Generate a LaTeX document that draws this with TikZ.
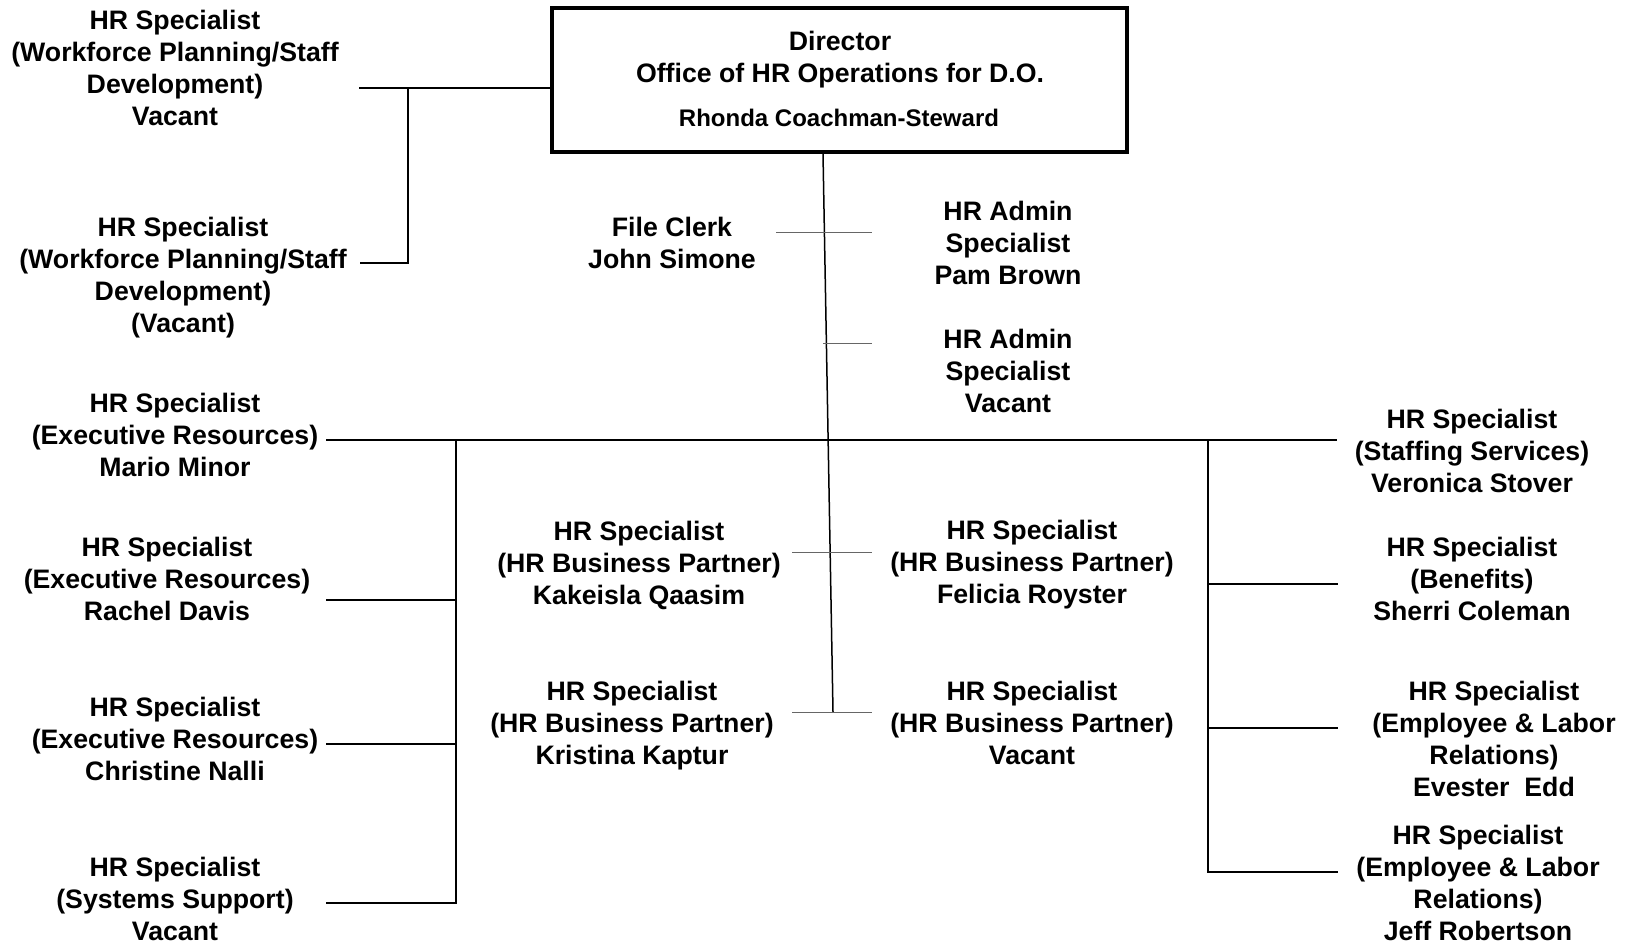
\documentclass[tikz,border=0pt]{standalone}
\usepackage{fontspec}
\setmainfont{Liberation Sans}
\begin{document}
\begin{tikzpicture}[x=1pt,y=-1pt,
  lbl/.style={font=\bfseries\fontsize{26.7}{32}\selectfont, align=center, inner sep=0pt},
  bus/.style={line width=2pt, line cap=rect},
  stub/.style={line width=1pt, draw=black!60},
  spine/.style={line width=1.5pt}]
\useasboundingbox (0,0) rectangle (1630,943);
% director box
\node[draw, line width=3.5pt, minimum width=575pt, minimum height=144pt, inner sep=0pt] (dir) at (839.5,80) {};
\node[lbl, font=\bfseries\fontsize{26.7}{32}\selectfont] (dirt) at (840,60) {Director\\Office of HR Operations for D.O.};
\node[lbl, font=\bfseries\fontsize{24}{28}\selectfont] (dirn) at (839,118) {Rhonda Coachman-Steward};
% left top
\node[lbl] (wp1) at (175,68) {HR Specialist\\(Workforce Planning/Staff\\Development)\\Vacant};
\node[lbl] (wp2) at (183,278) {HR Specialist\\(Workforce Planning/Staff\\Development)\\(Vacant)};
% middle
\node[lbl] (fc) at (672,243) {File Clerk\\John Simone};
\node[lbl] (pam) at (1008,243) {HR Admin\\Specialist\\Pam Brown};
\node[lbl] (adv) at (1008,371) {HR Admin\\Specialist\\Vacant};
% left column
\node[lbl] (mario) at (175,435) {HR Specialist\\(Executive Resources)\\Mario Minor};
\node[lbl] (rachel) at (167,579) {HR Specialist\\(Executive Resources)\\Rachel Davis};
\node[lbl] (chris) at (175,739) {HR Specialist\\(Executive Resources)\\Christine Nalli};
\node[lbl] (sys) at (175,898.5) {HR Specialist\\(Systems Support)\\Vacant};
% business partners
\node[lbl] (kak) at (639,565.5) {HR Specialist\\(HR Business Partner)\\Kakeisla Qaasim};
\node[lbl] (kri) at (632,726) {HR Specialist\\(HR Business Partner)\\Kristina Kaptur};
\node[lbl] (fel) at (1032,565) {HR Specialist\\(HR Business Partner)\\Felicia Royster};
\node[lbl] (bpv) at (1032,723) {HR Specialist\\(HR Business Partner)\\Vacant};
% right column
\node[lbl] (stf) at (1472,451) {HR Specialist\\(Staffing Services)\\Veronica Stover};
\node[lbl] (ben) at (1472,579) {HR Specialist\\(Benefits)\\Sherri Coleman};
\node[lbl] (emp1) at (1494,739) {HR Specialist\\(Employee \& Labor\\Relations)\\Evester\ \ Edd};
\node[lbl] (emp2) at (1478,882.5) {HR Specialist\\(Employee \& Labor\\Relations)\\Jeff Robertson};
% coordinates
\coordinate (wpA) at (360,88);
\coordinate (wpJ) at (408,88);
\coordinate (wpK) at (408,263);
\coordinate (wpB) at (361,263);
\coordinate (spT) at (823,152);
\coordinate (spB) at (833,712);
\coordinate (fcL) at (776,232); \coordinate (fcR) at (872,232);
\coordinate (adL) at (823,343); \coordinate (adR) at (872,343);
\coordinate (bp1L) at (792,552); \coordinate (bp1R) at (872,552);
\coordinate (bp2L) at (792,712); \coordinate (bp2R) at (872,712);
\coordinate (hL) at (327,440); \coordinate (hR) at (1336,440);
\coordinate (lbT) at (456,440); \coordinate (lbB) at (456,903);
\coordinate (rbT) at (1208,440); \coordinate (rbB) at (1208,872);
\coordinate (lr) at (327,600); \coordinate (lrJ) at (456,600);
\coordinate (lc) at (327,744); \coordinate (lcJ) at (456,744);
\coordinate (ls) at (327,903);
\coordinate (rbJ) at (1208,584); \coordinate (rb) at (1337,584);
\coordinate (reJ) at (1208,728); \coordinate (re) at (1337,728);
\coordinate (rf) at (1337,872);
% connectors
\draw[bus] (wpA) -- (dir.west |- wpA);
\draw[bus] (wpJ) -- (wpK) -- (wpB);
\draw[spine] (dir.south -| spT) -- (spB);
\draw[stub] (fcL) -- (fcR);
\draw[stub] (adL) -- (adR);
\draw[stub] (bp1L) -- (bp1R);
\draw[stub] (bp2L) -- (bp2R);
\draw[bus] (hL) -- (hR);
\draw[bus] (lbT) -- (lbB) -- (ls);
\draw[bus] (lr) -- (lrJ);
\draw[bus] (lc) -- (lcJ);
\draw[bus] (rbT) -- (rbB) -- (rf);
\draw[bus] (rbJ) -- (rb);
\draw[bus] (reJ) -- (re);
\end{tikzpicture}
\end{document}
